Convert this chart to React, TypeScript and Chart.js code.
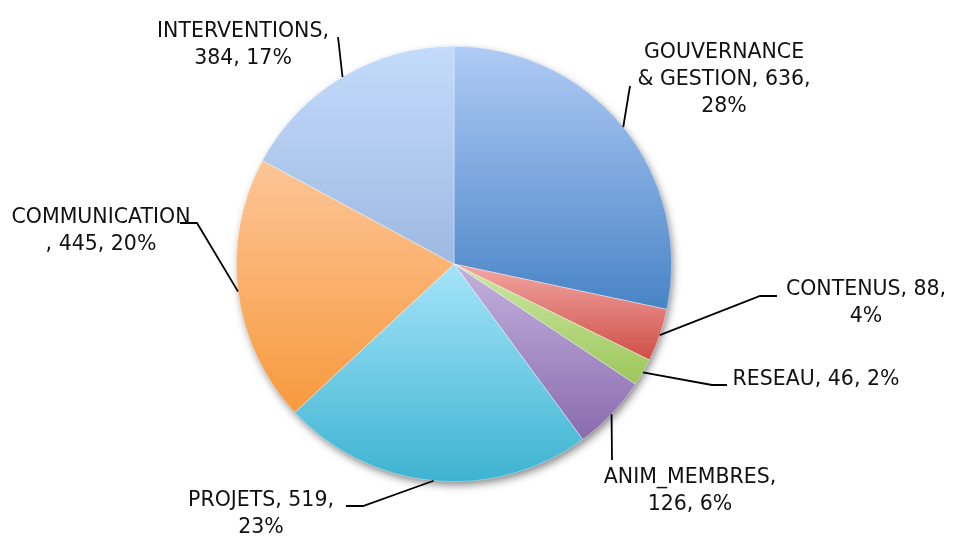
import React, { useEffect, useRef } from "react";
import { Chart, registerables } from "chart.js";

Chart.register(...registerables);

const categories = [
  "GOUVERNANCE & GESTION",
  "CONTENUS",
  "RESEAU",
  "ANIM_MEMBRES",
  "PROJETS",
  "COMMUNICATION",
  "INTERVENTIONS",
];
const values = [636, 88, 46, 126, 519, 445, 384];
const percents = ["28%", "4%", "2%", "6%", "23%", "20%", "17%"];

// label text lines (as displayed)
const labelLines = [
  ["GOUVERNANCE", "& GESTION, 636,", "28%"],
  ["CONTENUS, 88,", "4%"],
  ["RESEAU, 46, 2%"],
  ["ANIM_MEMBRES,", "126, 6%"],
  ["PROJETS, 519,", "23%"],
  ["COMMUNICATION", ", 445, 20%"],
  ["INTERVENTIONS,", "384, 17%"],
];

// gradient colours (top, bottom)
const topColors = ["#b0cbf5", "#f2a7a2", "#cde8a4", "#c2b2de", "#a5e4fa", "#fdc597", "#c4dbfb"];
const bottomColors = ["#4884c6", "#cf4e48", "#9cc65a", "#8a6bad", "#3db3d0", "#f79a3e", "#9db9e2"];

// label layout: centre x, first baseline y, leader points after the arc edge
const labelLayout = [
  { cx: 724, by: 58, leader: [[630, 86]] },
  { cx: 866, by: 295, leader: [[760, 296], [777, 296]] },
  { cx: 816, by: 385, leader: [[712, 385], [727, 385]] },
  { cx: 690, by: 483, leader: [[612, 460]] },
  { cx: 261, by: 506, leader: [[363, 506], [346, 506]] },
  { cx: 101, by: 223, leader: [[197, 223], [180, 223]] },
  { cx: 243, by: 37, leader: [[338, 37]] },
];

const FONT = "20.5px 'DejaVu Sans', sans-serif";
const LINE_H = 27;

function sliceGradient(ctx: any) {
  const i = ctx.dataIndex;
  const chart = ctx.chart;
  const ca = chart.chartArea;
  if (!ca) return topColors[i];
  const cx = (ca.left + ca.right) / 2;
  const cy = (ca.top + ca.bottom) / 2;
  const r = Math.min(ca.right - ca.left, ca.bottom - ca.top) / 2;
  const total = values.reduce((a, b) => a + b, 0);
  let cum = 0;
  for (let k = 0; k < i; k++) cum += values[k];
  const a0 = -Math.PI / 2 + (2 * Math.PI * cum) / total;
  const a1 = -Math.PI / 2 + (2 * Math.PI * (cum + values[i])) / total;
  const ys = [cy, cy + r * Math.sin(a0), cy + r * Math.sin(a1)];
  for (const t of [-Math.PI / 2, Math.PI / 2, (3 * Math.PI) / 2]) {
    if (t >= a0 && t <= a1) ys.push(cy + r * Math.sin(t));
  }
  const minY = Math.min(...ys);
  const maxY = Math.max(...ys);
  const g = chart.ctx.createLinearGradient(0, minY, 0, maxY);
  g.addColorStop(0, topColors[i]);
  g.addColorStop(1, bottomColors[i]);
  return g;
}

const shadowPlugin = {
  id: "pieShadow",
  beforeDatasetsDraw(chart: any) {
    const meta = chart.getDatasetMeta(0);
    const arc = meta.data[0];
    if (!arc) return;
    const { x, y, outerRadius } = arc.getProps(["x", "y", "outerRadius"], true);
    const ctx = chart.ctx;
    ctx.save();
    ctx.shadowColor = "rgba(0,0,0,0.5)";
    ctx.shadowBlur = 9;
    ctx.shadowOffsetX = 2;
    ctx.shadowOffsetY = 4;
    ctx.fillStyle = "#ffffff";
    ctx.beginPath();
    ctx.arc(x, y, outerRadius - 1, 0, Math.PI * 2);
    ctx.fill();
    ctx.restore();
  },
};

const labelPlugin = {
  id: "pieLabels",
  afterDatasetsDraw(chart: any) {
    const meta = chart.getDatasetMeta(0);
    const ctx = chart.ctx;
    ctx.save();
    meta.data.forEach((arc: any, i: number) => {
      const { x, y, startAngle, endAngle, outerRadius } = arc.getProps(
        ["x", "y", "startAngle", "endAngle", "outerRadius"],
        true
      );
      const mid = (startAngle + endAngle) / 2;
      const ex = x + outerRadius * Math.cos(mid);
      const ey = y + outerRadius * Math.sin(mid);
      const lay = labelLayout[i];
      ctx.strokeStyle = "#000000";
      ctx.lineWidth = 1.8;
      ctx.beginPath();
      ctx.moveTo(ex, ey);
      lay.leader.forEach((p) => ctx.lineTo(p[0], p[1]));
      ctx.stroke();
      ctx.fillStyle = "#111111";
      ctx.font = FONT;
      ctx.textAlign = "center";
      ctx.textBaseline = "alphabetic";
      labelLines[i].forEach((ln, k) => {
        ctx.fillText(ln, lay.cx, lay.by + k * LINE_H);
      });
    });
    ctx.restore();
  },
};

export default function App() {
  const ref = useRef<HTMLCanvasElement | null>(null);
  useEffect(() => {
    if (!ref.current) return;
    const chart = new Chart(ref.current, {
      type: "pie",
      data: {
        labels: categories.map((c, i) => `${c}, ${values[i]}, ${percents[i]}`),
        datasets: [
          {
            data: values,
            backgroundColor: sliceGradient as any,
            borderWidth: 0.6,
            borderColor: "rgba(255,255,255,0.6)",
          },
        ],
      },
      options: {
        animation: false,
        responsive: true,
        maintainAspectRatio: false,
        layout: { padding: { left: 0, right: 45, top: 46, bottom: 54 } },
        plugins: {
          legend: { display: false },
          tooltip: { enabled: false },
        },
      },
      plugins: [shadowPlugin, labelPlugin],
    });
    return () => chart.destroy();
  }, []);
  return (
    <div style={{ position: "absolute", left: 0, top: 0, width: 953, height: 536, background: "#ffffff" }}>
      <canvas ref={ref} />
    </div>
  );
}
